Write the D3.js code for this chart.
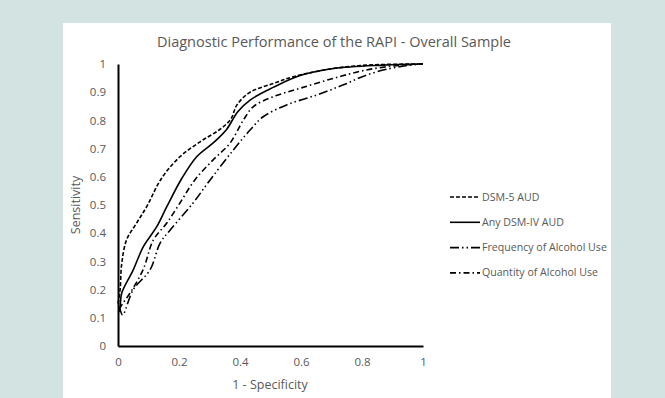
<!DOCTYPE html>
<html>
<head>
<meta charset="utf-8">
<script src="https://cdn.jsdelivr.net/npm/d3@7"></script>
<style>
  body { margin: 0; background: #d2e3e2; }
  svg { display: block; }
  text { font-family: "Open Sans", sans-serif; fill: #595959; }
</style>
</head>
<body>
<svg id="chart" width="665" height="398"></svg>
<script>
// ROC curves, points as [1 - specificity, sensitivity]
const dsm5 = [[0, 0.15], [0.007, 0.2], [0.012, 0.29], [0.028, 0.376], [0.061, 0.436], [0.094, 0.494],
  [0.143, 0.595], [0.203, 0.671], [0.269, 0.724], [0.334, 0.768], [0.37, 0.805], [0.39, 0.855],
  [0.433, 0.9], [0.51, 0.931], [0.575, 0.955], [0.706, 0.984], [0.815, 0.996], [1, 1]];
const dsm4 = [[0.003, 0.12], [0.007, 0.14], [0.012, 0.187], [0.05, 0.27], [0.083, 0.352], [0.127, 0.423],
  [0.16, 0.494], [0.209, 0.594], [0.258, 0.671], [0.312, 0.72], [0.356, 0.768], [0.392, 0.83],
  [0.433, 0.872], [0.509, 0.917], [0.597, 0.959], [0.706, 0.984], [0.869, 0.996], [1, 1]];
const freq = [[0.005, 0.14], [0.015, 0.11], [0.05, 0.2], [0.105, 0.27], [0.138, 0.365], [0.17, 0.41],
  [0.246, 0.507], [0.302, 0.589], [0.378, 0.695], [0.433, 0.766], [0.476, 0.813], [0.553, 0.855],
  [0.651, 0.89], [0.739, 0.926], [0.815, 0.961], [0.892, 0.984], [0.95, 0.995], [1, 1]];
const quant = [[0.004, 0.13], [0.015, 0.15], [0.039, 0.187], [0.082, 0.27], [0.116, 0.376], [0.16, 0.436],
  [0.203, 0.507], [0.252, 0.589], [0.312, 0.66], [0.367, 0.719], [0.411, 0.801], [0.444, 0.849],
  [0.509, 0.884], [0.597, 0.914], [0.706, 0.949], [0.815, 0.979], [0.92, 0.995], [1, 1]];

const seriesNames = ["DSM-5 AUD", "Any DSM-IV AUD", "Frequency of Alcohol Use", "Quantity of Alcohol Use"];
const seriesData = [dsm5, dsm4, freq, quant];
const seriesDash = ["4,2", null, "9,3,1.5,3,1.5,3", "6,3,1.5,3"];

const xTicks = [0, 0.2, 0.4, 0.6, 0.8, 1];
const yTicks = [0, 0.1, 0.2, 0.3, 0.4, 0.5, 0.6, 0.7, 0.8, 0.9, 1];

const svg = d3.select("#chart");

// white chart panel
svg.append("rect")
  .attr("x", 63).attr("y", 23)
  .attr("width", 548).attr("height", 375)
  .attr("fill", "#fff");

const x = d3.scaleLinear().domain([0, 1]).range([118, 423]);
const y = d3.scaleLinear().domain([0, 1]).range([346, 64]);

svg.append("text")
  .attr("x", 334).attr("y", 47)
  .attr("text-anchor", "middle")
  .style("font-size", "14.5px")
  .text("Diagnostic Performance of the RAPI - Overall Sample");

// axes, no tick marks
const xAxis = svg.append("g")
  .attr("transform", "translate(0," + y(0) + ")")
  .call(d3.axisBottom(x).tickValues(xTicks).tickSize(0).tickPadding(12).tickFormat(d3.format("")));
const yAxis = svg.append("g")
  .attr("transform", "translate(" + x(0) + ",0)")
  .call(d3.axisLeft(y).tickValues(yTicks).tickSize(0).tickPadding(12).tickFormat(d3.format("")));

[xAxis, yAxis].forEach(g => {
  g.select(".domain").attr("stroke", "#000").attr("stroke-width", 2);
  g.selectAll("text").style("font-size", "11.5px").attr("fill", "#595959");
});

svg.append("text")
  .attr("x", 270).attr("y", 389)
  .attr("text-anchor", "middle")
  .style("font-size", "12.5px")
  .text("1 - Specificity");

svg.append("text")
  .attr("transform", "translate(80,205) rotate(-90)")
  .attr("text-anchor", "middle")
  .style("font-size", "12.5px")
  .text("Sensitivity");

const line = d3.line()
  .x(d => x(d[0]))
  .y(d => y(d[1]))
  .curve(d3.curveCatmullRom.alpha(0.5));

seriesData.forEach((data, i) => {
  svg.append("path")
    .datum(data)
    .attr("fill", "none")
    .attr("stroke", "#000")
    .attr("stroke-width", 1.6)
    .attr("stroke-dasharray", seriesDash[i])
    .attr("d", line);
});

// legend
const legend = svg.append("g");
seriesNames.forEach((name, i) => {
  const ly = 197 + i * 25.3;
  legend.append("line")
    .attr("x1", 450).attr("x2", 480)
    .attr("y1", ly).attr("y2", ly)
    .attr("stroke", "#000")
    .attr("stroke-width", 1.6)
    .attr("stroke-dasharray", seriesDash[i]);
  legend.append("text")
    .attr("x", 482).attr("y", ly + 3.5)
    .style("font-size", "10.6px")
    .text(name);
});
</script>
</body>
</html>
